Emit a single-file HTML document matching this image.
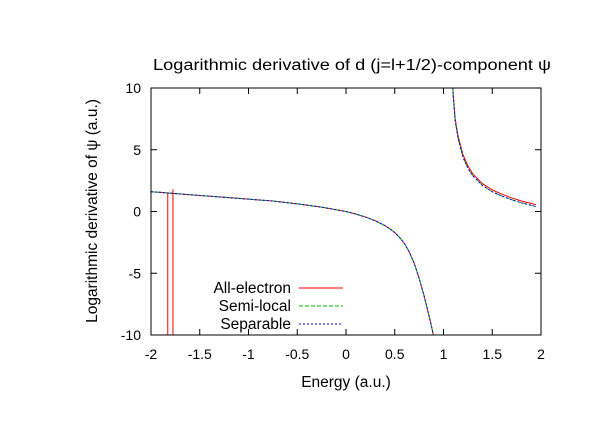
<!DOCTYPE html>
<html><head><meta charset="utf-8"><style>
body{margin:0;background:#fff}
text{font-family:"Liberation Sans","DejaVu Sans",sans-serif;font-size:14px;fill:#000}
.big{font-size:15.5px}
</style></head><body>
<svg id="chart" width="612" height="428" xmlns="http://www.w3.org/2000/svg">
<defs><clipPath id="clip"><rect x="151" y="88" width="390" height="247"/></clipPath></defs>
<text class="big" x="153" y="70" textLength="398" lengthAdjust="spacingAndGlyphs">Logarithmic derivative of d (j=l+1/2)-component ψ</text>
<text class="big" x="346" y="387" text-anchor="middle">Energy (a.u.)</text>
<text class="big" transform="translate(97,211) rotate(-90)" text-anchor="middle">Logarithmic derivative of ψ (a.u.)</text>
<g id="axes"></g>
<g id="series" clip-path="url(#clip)"></g>
<rect x="151" y="88" width="390" height="247" fill="none" stroke="#000" stroke-width="1"/>
<g id="legend"></g>
</svg>
<script>
const xTicks=[-2,-1.5,-1,-0.5,0,0.5,1,1.5,2];
const xTickLabels=["-2","-1.5","-1","-0.5","0","0.5","1","1.5","2"];
const yTicks=[-10,-5,0,5,10];
const yTickLabels=["-10","-5","0","5","10"];
const seriesNames=["All-electron","Semi-local","Separable"];
const seriesColors=["#ff0000","#00c000","#0000ff"];
const leftE=[-2,-1.9,-1.83,-1.7,-1.5,-1.25,-1,-0.75,-0.5,-0.25,0,0.1,0.2,0.3,0.35,0.4,0.45,0.5,0.55,0.6,0.65,0.7,0.75,0.8,0.85,0.88,0.91];
const leftV=[1.6,1.55,1.5,1.42,1.3,1.15,1.0,0.85,0.62,0.35,0,-0.2,-0.45,-0.75,-0.95,-1.15,-1.4,-1.7,-2.1,-2.6,-3.3,-4.2,-5.4,-6.8,-8.4,-9.4,-10.6];
const rightE=[1.09,1.1,1.12,1.15,1.2,1.25,1.3,1.4,1.5,1.6,1.7,1.8,1.9,1.95];
const redRightV=[11,9.5,7.5,6.1,4.6,3.7,3.05,2.25,1.75,1.4,1.1,0.85,0.65,0.55];
const simRightV=[11,9.3,7.3,5.9,4.4,3.5,2.9,2.1,1.6,1.25,0.95,0.7,0.5,0.38];
const redSpikeE=[-1.835,-1.828,-1.828,-1.775,-1.775,-1.77];
const redSpikeV=[1.5,1.45,-10.5,-10.5,1.75,1.72];
const X=e=>151+(e+2)/4*390;
const Y=v=>211.5-v/10*123.5;
const NS="http://www.w3.org/2000/svg";
const axes=document.getElementById('axes');
function mk(t,a,p){const e=document.createElementNS(NS,t);for(const k in a)e.setAttribute(k,a[k]);p.appendChild(e);return e;}
xTicks.forEach((t,i)=>{
 const x=X(t);
 const g=mk('g',{},axes);
 
 
 mk('path',{d:`M${x} 335v-6M${x} 88v6`,stroke:'#000'},g);
 const tx=mk('text',{x:x,y:359,'text-anchor':'middle'},g);tx.textContent=xTickLabels[i];
});
yTicks.forEach((t,i)=>{
 const y=Y(t);
 const g=mk('g',{},axes);
 
 
 mk('path',{d:`M151 ${y}h6M541 ${y}h-6`,stroke:'#000'},g);
 const tx=mk('text',{x:141,y:y+5,'text-anchor':'end'},g);tx.textContent=yTickLabels[i];
});
const ser=document.getElementById('series');
function line(E,V,col,dash,name){
 const p=mk('polyline',{points:E.map((e,i)=>X(e)+','+Y(V[i])).join(' '),fill:'none',stroke:col,'stroke-width':1,'stroke-dasharray':dash},ser);
 
 
}
line(leftE,leftV,seriesColors[0],'none','all-electron-left');
line(redSpikeE,redSpikeV,seriesColors[0],'none','all-electron-spike');
line(rightE,redRightV,seriesColors[0],'none','all-electron-right');
line(leftE,leftV,seriesColors[1],'4 2','semi-local-left');
line(rightE,simRightV,seriesColors[1],'4 2','semi-local-right');
line(leftE,leftV,seriesColors[2],'2 2','separable-left');
line(rightE,simRightV,seriesColors[2],'2 2','separable-right');
const leg=document.getElementById('legend');
seriesNames.forEach((n,i)=>{
 const y=288+i*18;
 const g=mk('g',{},leg);
 
 
 const t=mk('text',{class:'big',x:291,y:y+5,'text-anchor':'end'},g);t.textContent=n;
 mk('line',{x1:299,x2:343,y1:y,y2:y,stroke:seriesColors[i],'stroke-dasharray':i==0?'none':(i==1?'4 2':'2 2')},g);
});
</script>
</body></html>
